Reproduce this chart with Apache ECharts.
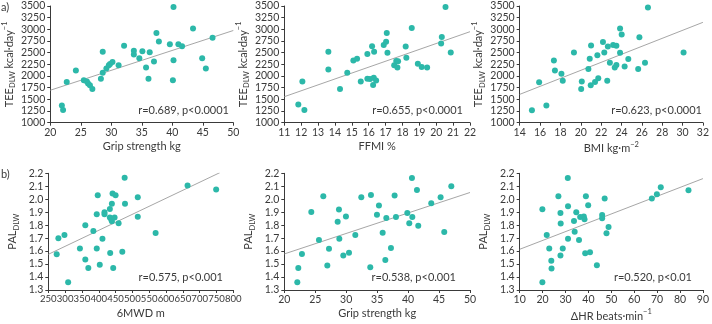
<!DOCTYPE html>
<html>
<head>
<meta charset="utf-8">
<script src="https://cdn.jsdelivr.net/npm/echarts@6/dist/echarts.min.js"></script>
<style>
  html, body { margin: 0; padding: 0; background: #fff; }
  #main { width: 712px; height: 324px; }
</style>
</head>
<body>
<div id="main"></div>
<script>
// a) TEE vs grip strength
var teeGripX = [21.9, 22.1, 22.7, 24.2, 25.5, 26.0, 26.2, 26.5, 26.9, 28.3, 28.6, 28.6, 29.2, 29.6, 29.8, 30.2, 31.2, 32.1, 33.7, 33.7, 35.1, 34.6, 35.7, 36.1, 36.3, 37.0, 37.4, 37.8, 39.6, 40.1, 40.2, 40.2, 41.0, 41.6, 43.4, 44.9, 45.5, 46.6];
var teeGripY = [1370, 1270, 1870, 2120, 1910, 1880, 1840, 1800, 1720, 1940, 2520, 2070, 2160, 2230, 2260, 2300, 2230, 2650, 2540, 2460, 2530, 2380, 2180, 1940, 2510, 2310, 2920, 2740, 2680, 1910, 3480, 2340, 2680, 2640, 3020, 2380, 2160, 2820];
var teeGripFit = [[20, 1695], [50, 2975]];

// a) TEE vs FFMI
var teeFfmiX = [11.83, 12.07, 12.19, 13.61, 13.61, 14.30, 14.73, 15.09, 15.31, 15.53, 15.92, 15.92, 16.08, 16.20, 16.26, 16.30, 16.32, 16.44, 16.89, 17.03, 17.07, 17.11, 17.51, 17.63, 17.70, 17.74, 18.19, 18.23, 18.55, 18.91, 19.14, 19.46, 20.29, 20.33, 20.55, 20.86];
var teeFfmiY = [1390, 1880, 1270, 2520, 2140, 1720, 2070, 2330, 2370, 1880, 2470, 1940, 1935, 2640, 1810, 1965, 2520, 1905, 2665, 2735, 2920, 2500, 2230, 2320, 2180, 2315, 2635, 2390, 3030, 2265, 2195, 2185, 2695, 2835, 3480, 2505];
var teeFfmiFit = [[11, 1557], [22, 2950]];

// a) TEE vs BMI
var teeBmiX = [15.20, 15.91, 16.62, 17.36, 17.46, 18.10, 18.23, 19.33, 20.04, 20.10, 20.75, 20.88, 20.98, 21.01, 21.40, 21.63, 21.72, 22.18, 22.31, 22.60, 22.66, 22.86, 23.18, 23.34, 23.50, 23.50, 23.86, 23.86, 24.02, 24.31, 24.67, 25.64, 25.76, 26.31, 26.60, 30.10];
var teeBmiY = [1265, 1865, 1370, 2335, 2120, 2050, 1900, 2505, 1720, 1885, 2150, 2370, 1800, 2655, 1870, 2445, 1950, 2730, 2505, 1900, 2630, 2285, 2665, 2180, 2650, 2235, 3020, 2500, 2890, 2205, 2365, 2150, 2830, 2285, 3470, 2505];
var teeBmiFit = [[14, 1607], [32, 3150]];

// b) PAL vs 6MWD
var pal6mwdX = [275, 280, 298, 309, 344, 360, 360, 369, 384, 394, 394, 397, 403, 411, 417, 417, 433, 433, 434, 437, 439, 439, 441, 443, 447, 450, 459, 470, 477, 478, 516, 516, 569, 664, 749];
var pal6mwdY = [1.575, 1.70, 1.725, 1.36, 1.62, 1.80, 1.535, 1.47, 1.755, 1.885, 1.62, 2.03, 1.495, 1.695, 1.90, 1.885, 1.925, 1.86, 1.585, 1.845, 1.83, 1.965, 2.045, 1.47, 1.86, 2.03, 1.815, 1.595, 2.165, 1.965, 2.015, 1.865, 1.74, 2.105, 2.075];
var pal6mwdFit = [[250, 1.575], [760, 2.205]];

// b) PAL vs grip strength
var palGripX = [22.10, 22.26, 22.85, 24.36, 25.60, 26.30, 26.95, 27.22, 28.62, 28.83, 28.89, 29.53, 29.96, 30.45, 31.47, 32.44, 33.89, 34.00, 34.97, 35.29, 35.89, 36.32, 36.48, 37.23, 37.82, 38.04, 39.87, 40.19, 40.62, 40.68, 41.43, 41.64, 43.74, 45.25, 45.84, 46.98];
var palGripY = [1.36, 1.47, 1.578, 1.902, 1.686, 2.023, 1.488, 1.619, 1.827, 1.92, 1.696, 1.567, 1.866, 1.588, 1.724, 2.015, 1.475, 2.033, 1.881, 1.951, 1.742, 1.531, 1.855, 1.624, 2.028, 1.863, 1.894, 1.814, 2.164, 1.863, 2.071, 1.796, 1.969, 2.015, 1.747, 2.10];
var palGripFit = [[20, 1.578], [50, 2.052]];

// b) PAL vs delta HR
var palHrX = [19.9, 19.9, 21.8, 22.9, 23.8, 23.9, 26.9, 27.8, 27.9, 27.8, 28.8, 31.0, 31.1, 31.1, 33.7, 34.0, 34.7, 35.9, 36.4, 38.0, 38.3, 38.6, 38.9, 39.9, 40.7, 43.7, 46.0, 46.0, 47.1, 47.9, 48.8, 67.7, 69.9, 71.6, 83.7];
var palHrY = [1.922, 1.36, 1.724, 1.621, 1.526, 1.465, 2.023, 1.894, 1.812, 1.567, 1.621, 2.164, 1.945, 1.696, 1.832, 1.75, 1.899, 1.686, 1.863, 1.866, 1.845, 1.583, 2.023, 1.953, 1.591, 1.49, 1.879, 1.853, 2.005, 1.738, 1.786, 2.005, 2.038, 2.092, 2.069];
var palHrFit = [[10, 1.614], [90, 2.159]];

var statText = ['r=0.689, p<0.0001', 'r=0.655, p<0.0001', 'r=0.623, p<0.0001',
                'r=0.575, p<0.001', 'r=0.538, p<0.001', 'r=0.520, p<0.01'];

var FONT = 'Lato';
var DOT = '#2cb8a9';
var AXIS = '#3a3a3a';

function pairs(xs, ys) {
    var out = [];
    for (var i = 0; i < xs.length; i++) {
        out.push([xs[i], ys[i]]);
    }
    return out;
}

var panels = [
    {x: teeGripX, y: teeGripY, fit: teeGripFit, xmin: 20, xmax: 50, xint: 5, xname: 'Grip strength kg'},
    {x: teeFfmiX, y: teeFfmiY, fit: teeFfmiFit, xmin: 11, xmax: 22, xint: 1, xname: 'FFMI %'},
    {x: teeBmiX, y: teeBmiY, fit: teeBmiFit, xmin: 14, xmax: 32, xint: 2, xname: '{a|BMI kg·m}{p|−2}'},
    {x: pal6mwdX, y: pal6mwdY, fit: pal6mwdFit, xmin: 250, xmax: 800, xint: 50, xname: '6MWD m', tight: true},
    {x: palGripX, y: palGripY, fit: palGripFit, xmin: 20, xmax: 50, xint: 5, xname: 'Grip strength kg'},
    {x: palHrX, y: palHrY, fit: palHrFit, xmin: 10, xmax: 90, xint: 10, xname: '{a|ΔHR beats·min}{p|−1}'}
];

var gridLefts = [48.3, 284.3, 519.7];
var gridWidths = [185, 185.7, 185.6];
var gridTops = [6, 173.3];
var gridH = 116.7;

// sub/superscripts: small tokens aligned to bottom/top of a taller line
var richName = {
    a: {fontFamily: FONT, fontSize: 11, color: AXIS, lineHeight: 16},
    s: {fontFamily: FONT, fontSize: 7.5, color: AXIS, verticalAlign: 'bottom'},
    p: {fontFamily: FONT, fontSize: 7.5, color: AXIS, verticalAlign: 'top'}
};

var grid = [], xAxis = [], yAxis = [], series = [], graphic = [];

for (var i = 0; i < panels.length; i++) {
    var p = panels[i];
    var row = Math.floor(i / 3), col = i % 3;
    grid.push({left: gridLefts[col], top: gridTops[row], width: gridWidths[col], height: gridH});
    xAxis.push({
        gridIndex: i, type: 'value', min: p.xmin, max: p.xmax, interval: p.xint,
        splitLine: {show: false},
        axisLine: {lineStyle: {color: AXIS, width: 1}},
        axisTick: {length: 3, lineStyle: {color: AXIS}},
        axisLabel: {fontFamily: FONT, fontSize: p.tight ? 9.6 : 10.5, color: AXIS, margin: 4,
            showMinLabel: true, showMaxLabel: true, hideOverlap: false},
        name: p.xname, nameLocation: 'middle', nameGap: 18,
        nameTextStyle: {fontFamily: FONT, fontSize: 11, color: AXIS, rich: richName}
    });
    yAxis.push(row == 0 ? {
        gridIndex: i, type: 'value', min: 1000, max: 3500, interval: 250,
        splitLine: {show: false},
        axisLine: {show: true, lineStyle: {color: AXIS, width: 1}},
        axisTick: {show: true, length: 3, lineStyle: {color: AXIS}},
        axisLabel: {fontFamily: FONT, fontSize: 10.5, color: AXIS, margin: 5,
            formatter: function (v) { return String(v); }},
        name: '{a|TEE}{s|DLW}{a| kcal·day}{p|−1}', nameLocation: 'middle', nameGap: 31, nameRotate: 90,
        nameTextStyle: {fontFamily: FONT, fontSize: 11, color: AXIS, rich: richName}
    } : {
        gridIndex: i, type: 'value', min: 1.3, max: 2.2, interval: 0.1,
        splitLine: {show: false},
        axisLine: {show: true, lineStyle: {color: AXIS, width: 1}},
        axisTick: {show: true, length: 3, lineStyle: {color: AXIS}},
        axisLabel: {fontFamily: FONT, fontSize: 10.5, color: AXIS, margin: 5,
            formatter: function (v) { return v.toFixed(1); }},
        name: '{a|PAL}{s|DLW}', nameLocation: 'middle', nameGap: 28, nameRotate: 90,
        nameTextStyle: {fontFamily: FONT, fontSize: 11, color: AXIS, rich: richName}
    });
    series.push({
        type: 'line', xAxisIndex: i, yAxisIndex: i, data: p.fit,
        showSymbol: false, silent: true, z: 1,
        lineStyle: {color: '#9c9c9c', width: 0.9}
    });
    series.push({
        type: 'scatter', xAxisIndex: i, yAxisIndex: i, data: pairs(p.x, p.y),
        symbolSize: 6, z: 2,
        itemStyle: {color: DOT, opacity: 1}
    });
}

var statRight = [229, 463, 702, 223, 456, 692];
var statY = [110, 110, 110, 277, 277, 277];
for (var k = 0; k < statText.length; k++) {
    graphic.push({
        type: 'text', x: statRight[k], y: statY[k],
        style: {text: statText[k], fontFamily: FONT, fontSize: 11, fill: AXIS,
            textAlign: 'right', textVerticalAlign: 'middle'}
    });
}
graphic.push({type: 'text', x: 1, y: 7, style: {text: 'a)', fontFamily: FONT, fontSize: 11, fill: AXIS, textVerticalAlign: 'middle'}});
graphic.push({type: 'text', x: 1, y: 174, style: {text: 'b)', fontFamily: FONT, fontSize: 11, fill: AXIS, textVerticalAlign: 'middle'}});

var myChart = echarts.init(document.getElementById('main'), null, {renderer: 'canvas'});
myChart.setOption({
    animation: false,
    grid: grid,
    xAxis: xAxis,
    yAxis: yAxis,
    series: series,
    graphic: graphic
});
</script>
</body>
</html>
